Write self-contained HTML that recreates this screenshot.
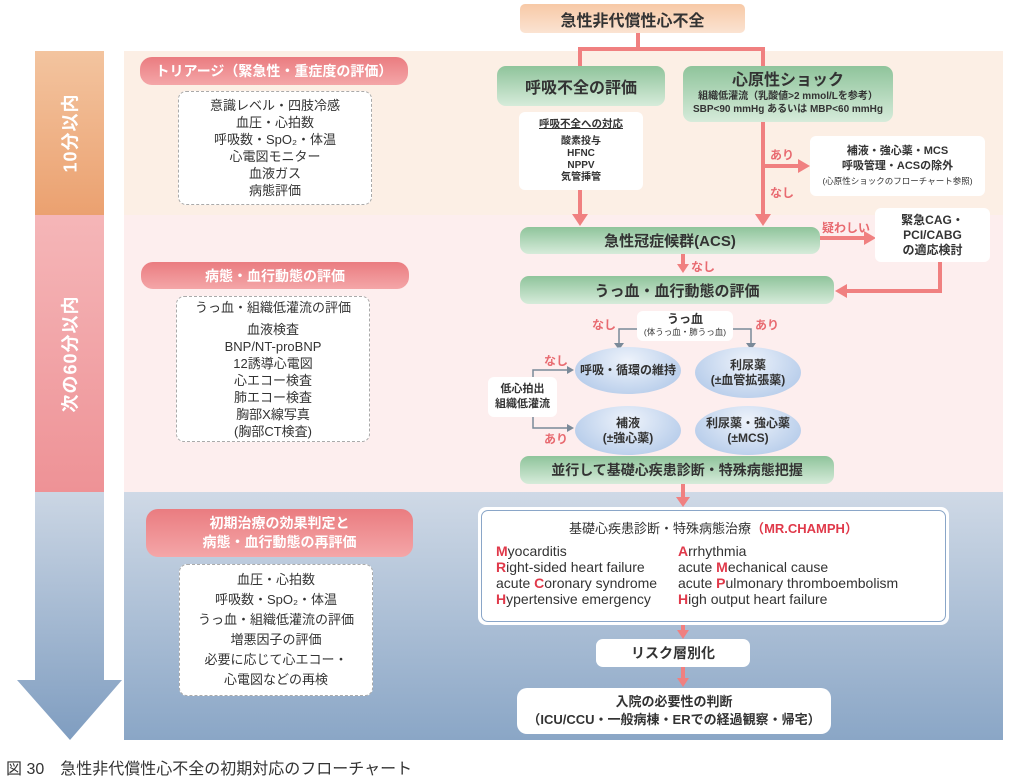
<!DOCTYPE html>
<html><head><meta charset="utf-8"><style>
*{margin:0;padding:0;box-sizing:border-box}
body{width:1024px;height:778px;background:#fff;position:relative;overflow:hidden;font-family:"Liberation Sans","Noto Sans CJK JP",sans-serif;color:#333}
.a{position:absolute}
.c{display:flex;align-items:center;justify-content:center;text-align:center;flex-direction:column}
.g{background:linear-gradient(#8fc49b,#d6ebda);border-radius:9px;font-weight:bold;color:#333}
.w{background:#fff;border-radius:6px}
.p{background:linear-gradient(#ea7c80,#f4a6a8);border-radius:12px;color:#fff;font-weight:bold}
.d{background:#fff;border:1.5px dashed #aaa;border-radius:8px;font-size:13px;line-height:17px;color:#333}
.e{border-radius:50%;background:radial-gradient(ellipse at 50% 30%,#eef3fb,#a9c3e6);font-size:11px;font-weight:bold;line-height:15px}
.r{color:#e86a70;font-size:11px;font-weight:bold}
.v{color:#fff;font-size:18px;font-weight:bold;letter-spacing:1px;white-space:nowrap;transform:rotate(-90deg)}
.m{color:#e0394a;font-weight:bold}
</style></head><body>
<div class="a" style="left:124px;top:51px;width:879px;height:164px;background:#fcefe5"></div>
<div class="a" style="left:124px;top:215px;width:879px;height:277px;background:#fdeeee"></div>
<div class="a" style="left:124px;top:492px;width:879px;height:248px;background:linear-gradient(#cfd9e6,#8aa6c6)"></div>
<div class="a c" style="left:35px;top:51px;width:69px;height:164px;background:linear-gradient(#f3c49f,#eba170)"><span class="v">10分以内</span></div>
<div class="a c" style="left:35px;top:215px;width:69px;height:277px;background:linear-gradient(#f5b6b8,#ee9296)"><span class="v">次の60分以内</span></div>
<svg class="a" style="left:0;top:0" width="1024" height="778">
<defs><linearGradient id="bg" x1="0" y1="0" x2="0" y2="1"><stop offset="0" stop-color="#cbd6e4"/><stop offset="1" stop-color="#7f9dc0"/></linearGradient></defs>
<polygon points="35,492 104,492 104,680 122,680 70,740 17,680 35,680" fill="url(#bg)"/>
<g stroke="#f08080" stroke-width="4" fill="none">
<polyline points="638,33 638,49 580,49 580,66"/><polyline points="638,49 763,49 763,66"/>
<line x1="580" y1="190" x2="580" y2="216"/><line x1="763" y1="122" x2="763" y2="216"/>
<line x1="763" y1="166" x2="800" y2="166"/>
<line x1="820" y1="238" x2="866" y2="238"/>
<polyline points="940,262 940,291 845,291"/>
<line x1="683" y1="254" x2="683" y2="266"/>
<line x1="683" y1="484" x2="683" y2="500"/>
<line x1="683" y1="620" x2="683" y2="632"/>
<line x1="683" y1="666" x2="683" y2="680"/>
</g>
<g fill="#f08080">
<polygon points="572,214 588,214 580,226"/><polygon points="755,214 771,214 763,226"/>
<polygon points="798,159 798,173 810,166"/><polygon points="864,231 864,245 876,238"/>
<polygon points="847,284 847,298 835,291"/><polygon points="677,264 689,264 683,273"/>
<polygon points="676,497 690,497 683,507"/><polygon points="677,630 689,630 683,639"/>
<polygon points="677,678 689,678 683,687"/>
</g>
<g stroke="#7a8a99" stroke-width="1.5" fill="none">
<polyline points="637,329 619,329 619,344"/><polyline points="733,329 751,329 751,344"/>
<polyline points="533,380 533,370 568,370"/><polyline points="533,416 533,428 568,428"/>
</g>
<g fill="#7a8a99"><polygon points="614,343 624,343 619,350"/><polygon points="746,343 756,343 751,350"/>
<polygon points="567,366 567,374 574,370"/><polygon points="567,424 567,432 574,428"/></g>
</svg>
<div class="a c" style="left:520px;top:4px;width:225px;height:29px;background:linear-gradient(#f7c9a6,#fbe3d2);border-radius:5px;font-weight:bold;font-size:16px">急性非代償性心不全</div>
<div class="a c g" style="left:497px;top:66px;width:168px;height:40px;font-size:16px">呼吸不全の評価</div>
<div class="a c g" style="left:683px;top:66px;width:210px;height:56px;font-size:16px;line-height:18px">心原性ショック<span style="font-size:10px;line-height:13px">組織低灌流（乳酸値&gt;2 mmol/Lを参考）<br>SBP&lt;90 mmHg あるいは MBP&lt;60 mmHg</span></div>
<div class="a c w" style="left:519px;top:112px;width:124px;height:78px;font-size:10px;font-weight:bold;line-height:12px"><u style="font-size:10.5px;margin-bottom:6px">呼吸不全への対応</u>酸素投与<br>HFNC<br>NPPV<br>気管挿管</div>
<div class="a r" style="left:770px;top:146px;font-size:12px">あり</div><div class="a r" style="left:770px;top:184px;font-size:12px">なし</div>
<div class="a c w" style="left:810px;top:136px;width:175px;height:60px;font-size:11px;font-weight:bold;line-height:15px">補液・強心薬・MCS<br>呼吸管理・ACSの除外<span style="font-size:8.5px;font-weight:normal">(心原性ショックのフローチャート参照)</span></div>
<div class="a c g" style="left:520px;top:227px;width:300px;height:27px;font-size:15px">急性冠症候群(ACS)</div>
<div class="a r" style="left:822px;top:219px;font-size:12px">疑わしい</div>
<div class="a c w" style="left:875px;top:208px;width:115px;height:54px;font-size:12px;font-weight:bold;line-height:15px">緊急CAG・<br>PCI/CABG<br>の適応検討</div>
<div class="a r" style="left:691px;top:258px;font-size:12px">なし</div>
<div class="a c g" style="left:520px;top:276px;width:314px;height:28px;font-size:15px">うっ血・血行動態の評価</div>
<div class="a r" style="left:592px;top:316px;font-size:12px">なし</div><div class="a r" style="left:755px;top:316px;font-size:12px">あり</div>
<div class="a c w" style="left:637px;top:311px;width:96px;height:30px;font-size:12px;font-weight:bold;line-height:13px">うっ血<span style="font-size:8.5px;font-weight:normal">(体うっ血・肺うっ血)</span></div>
<div class="a c e" style="left:575px;top:347px;width:106px;height:47px;font-size:12px">呼吸・循環の維持</div>
<div class="a c e" style="left:695px;top:347px;width:106px;height:51px;font-size:12px">利尿薬<br>(±血管拡張薬)</div>
<div class="a c e" style="left:575px;top:406px;width:106px;height:49px;font-size:12px">補液<br>(±強心薬)</div>
<div class="a c e" style="left:695px;top:406px;width:106px;height:49px;font-size:12px">利尿薬・強心薬<br>(±MCS)</div>
<div class="a r" style="left:544px;top:352px;font-size:12px">なし</div><div class="a r" style="left:544px;top:430px;font-size:12px">あり</div>
<div class="a c w" style="left:488px;top:377px;width:69px;height:40px;font-size:11px;font-weight:bold;line-height:15px">低心拍出<br>組織低灌流</div>
<div class="a c g" style="left:520px;top:456px;width:314px;height:28px;font-size:14px">並行して基礎心疾患診断・特殊病態把握</div>
<div class="a c p" style="left:140px;top:57px;width:268px;height:28px;font-size:14px">トリアージ（緊急性・重症度の評価）</div>
<div class="a c d" style="left:178px;top:91px;width:194px;height:114px">意識レベル・四肢冷感<br>血圧・心拍数<br>呼吸数・SpO₂・体温<br>心電図モニター<br>血液ガス<br>病態評価</div>
<div class="a c p" style="left:141px;top:262px;width:268px;height:27px;font-size:14px">病態・血行動態の評価</div>
<div class="a c d" style="left:176px;top:296px;width:194px;height:146px"><span style="margin-bottom:5px">うっ血・組織低灌流の評価</span>血液検査<br>BNP/NT-proBNP<br>12誘導心電図<br>心エコー検査<br>肺エコー検査<br>胸部X線写真<br>(胸部CT検査)</div>
<div class="a c p" style="left:146px;top:509px;width:267px;height:48px;font-size:14px;line-height:19px">初期治療の効果判定と<br>病態・血行動態の再評価</div>
<div class="a c d" style="left:179px;top:564px;width:194px;height:132px;line-height:20px">血圧・心拍数<br>呼吸数・SpO₂・体温<br>うっ血・組織低灌流の評価<br>増悪因子の評価<br>必要に応じて心エコー・<br>心電図などの再検</div>
<div class="a" style="left:478px;top:507px;width:471px;height:118px;background:#fff;border-radius:8px;padding:3px"><div style="width:100%;height:100%;border:1.5px solid #8aa6c8;border-radius:7px;position:relative;font-size:14px;line-height:16px">
<div class="a" style="left:0;width:100%;top:10px;text-align:center;font-size:13px">基礎心疾患診断・特殊病態治療<span class="m">（MR.CHAMPH）</span></div>
<div class="a" style="left:14px;top:32px"><span class="m">M</span>yocarditis<br><span class="m">R</span>ight-sided heart failure<br>acute <span class="m">C</span>oronary syndrome<br><span class="m">H</span>ypertensive emergency</div>
<div class="a" style="left:196px;top:32px"><span class="m">A</span>rrhythmia<br>acute <span class="m">M</span>echanical cause<br>acute <span class="m">P</span>ulmonary thromboembolism<br><span class="m">H</span>igh output heart failure</div>
</div></div>
<div class="a c w" style="left:596px;top:639px;width:154px;height:28px;font-size:14px;font-weight:bold;border-radius:7px">リスク層別化</div>
<div class="a c w" style="left:517px;top:688px;width:314px;height:46px;font-size:13px;font-weight:bold;line-height:18px;border-radius:10px">入院の必要性の判断<br>（ICU/CCU・一般病棟・ERでの経過観察・帰宅）</div>
<div class="a" style="left:6px;top:755px;font-size:16px;color:#333">図 30　急性非代償性心不全の初期対応のフローチャート</div>
</body></html>
